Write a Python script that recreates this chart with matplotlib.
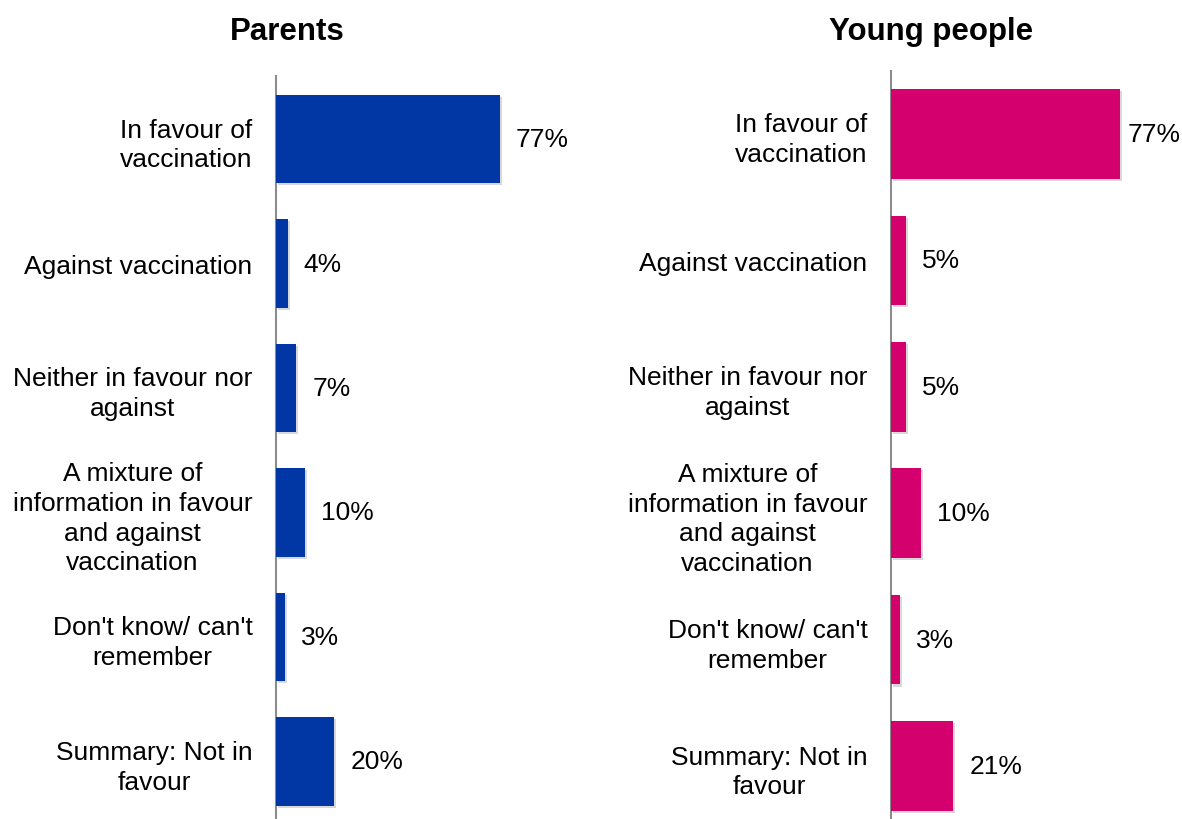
import matplotlib.pyplot as plt
import matplotlib.patheffects as pe

plt.rcParams['font.family'] = ['Liberation Sans', 'DejaVu Sans']

# survey answers, top to bottom
categories = [
    "In favour of\nvaccination",
    "Against vaccination",
    "Neither in favour nor\nagainst",
    "A mixture of\ninformation in favour\nand against\nvaccination",
    "Don't know/ can't\nremember",
    "Summary: Not in\nfavour",
]
parents = [77, 4, 7, 10, 3, 20]
young_people = [77, 5, 5, 10, 3, 21]

W, H = 1182, 820
fig = plt.figure(figsize=(W / 100, H / 100), dpi=100)


def panel(left_px, top_px, px_per_pct, step_px, first_px, values, color, title, title_x):
    # axes placed in pixel terms so the spine sits where it should
    xmax = 100
    width_px = px_per_pct * xmax
    ax = fig.add_axes([left_px / W, 0, width_px / W, (H - top_px) / H])
    ax.set_xlim(0, xmax)
    top = (top_px - first_px) / step_px
    bottom = (H - first_px) / step_px
    ax.set_ylim(bottom, top)

    ys = range(len(values))
    bars = ax.barh(ys, values, height=0.71, color=color, zorder=3)
    for b in bars:
        b.set_path_effects([pe.SimplePatchShadow(offset=(1.5, -1.5), shadow_rgbFace='gray', alpha=0.3),
                            pe.Normal()])

    # value labels, kept inside the figure
    gap = 16 / px_per_pct
    room = (W - left_px - 54) / px_per_pct
    for y, v in zip(ys, values):
        ax.text(min(v + gap, room), y, f"{v}%", va='center', ha='left', fontsize=19)

    ax.set_yticks(list(ys))
    ax.set_yticklabels(categories, fontsize=19, multialignment='center', linespacing=1.3)
    ax.tick_params(axis='y', length=0, pad=17)
    ax.set_xticks([])
    for s in ['top', 'right', 'bottom']:
        ax.spines[s].set_visible(False)
    ax.spines['left'].set_color('#8c8c8c')
    ax.spines['left'].set_linewidth(1.5)

    fig.text(title_x / W, 1 - 32 / H, title, ha='center', va='center',
             fontsize=22.5, fontweight='bold')
    return ax


panel(276, 77, 2.91, 124.5, 140, parents, '#0037a4', 'Parents', 287)
panel(891, 72, 2.97, 126.4, 135, young_people, '#d4006e', 'Young people', 931)

fig.savefig('out.png', dpi=100)
